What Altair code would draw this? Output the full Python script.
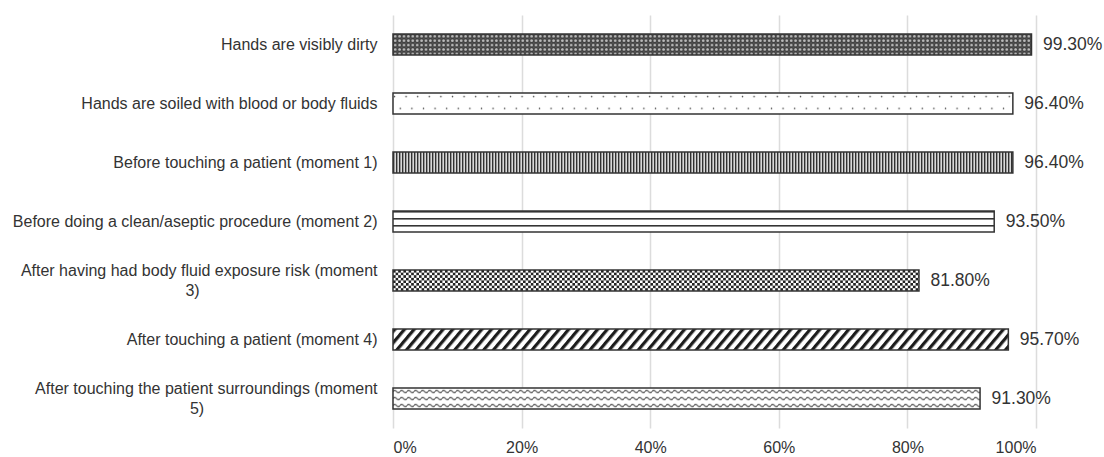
import base64
import altair as alt
import pandas as pd

# Share of respondents naming each moment for hand hygiene
categories = [
    "Hands are visibly dirty",
    "Hands are soiled with blood or body fluids",
    "Before touching a patient (moment 1)",
    "Before doing a clean/aseptic procedure (moment 2)",
    "After having had body fluid exposure risk (moment 3)",
    "After touching a patient (moment 4)",
    "After touching the patient surroundings (moment 5)",
]
values = [0.993, 0.964, 0.964, 0.935, 0.818, 0.957, 0.913]

# Long labels are broken over two lines.  The short second line is padded
# with no-break spaces (closed by a zero-width space so they are not trimmed)
# so that it sits under the middle of the first line.
wrapped = {
    "After having had body fluid exposure risk (moment 3)":
        ["After having had body fluid exposure risk (moment",
         "3)" + "\u00a0" * 40 + "\u200b"],
    "After touching the patient surroundings (moment 5)":
        ["After touching the patient surroundings (moment",
         "5)" + "\u00a0" * 39 + "\u200b"],
}

tick_values = [0, 0.2, 0.4, 0.6, 0.8, 1.0]

FONT = "Liberation Sans"
INK = "#333333"


def pattern(tile_w, tile_h, body, bg="#ffffff", transform=None):
    """Build an SVG data URI that tiles a fill pattern at screen-pixel scale."""
    tf = f' patternTransform="{transform}"' if transform else ""
    svg = (
        '<svg xmlns="http://www.w3.org/2000/svg" width="100%" height="100%">'
        f'<defs><pattern id="p" patternUnits="userSpaceOnUse" width="{tile_w}" height="{tile_h}"{tf}>'
        f'<rect width="{tile_w}" height="{tile_h}" fill="{bg}"/>{body}</pattern></defs>'
        '<rect width="100%" height="100%" fill="url(#p)"/></svg>'
    )
    return "data:image/svg+xml;base64," + base64.b64encode(svg.encode()).decode()


fills = [
    # trellis: light specks on a dark ground
    pattern(4.4, 4.4,
            '<circle cx="2.2" cy="2.2" r="1.35" fill="#bdbdbd"/>'
            '<circle cx="0" cy="0" r="0.5" fill="#8a8a8a"/>'
            '<circle cx="4.4" cy="0" r="0.5" fill="#8a8a8a"/>'
            '<circle cx="0" cy="4.4" r="0.5" fill="#8a8a8a"/>'
            '<circle cx="4.4" cy="4.4" r="0.5" fill="#8a8a8a"/>',
            bg="#404040"),
    # sparse staggered dots
    pattern(11.6, 24,
            '<circle cx="1.5" cy="3.5" r="0.75" fill="#444"/>'
            '<circle cx="7.3" cy="15.5" r="0.75" fill="#444"/>'),
    # dense vertical lines
    pattern(3, 3, '<rect x="0" y="0" width="1.3" height="3" fill="#2a2a2a"/>', bg="#d9d9d9"),
    # horizontal lines
    pattern(7, 7, '<rect x="0" y="0" width="7" height="1.5" fill="#333"/>'),
    # small checkerboard
    pattern(5.2, 5.2,
            '<rect x="0" y="0" width="2.6" height="2.6" fill="#222"/>'
            '<rect x="2.6" y="2.6" width="2.6" height="2.6" fill="#222"/>'),
    # wide upward diagonal
    pattern(7.4, 7.4, '<rect x="0" y="0" width="3.2" height="7.4" fill="#1c1c1c"/>',
            transform="rotate(40)"),
    # wavy lines
    pattern(7, 7, '<path d="M0,3.5 q1.75,-2.4 3.5,0 t3.5,0" fill="none" stroke="#333" stroke-width="1"/>'),
]

df = pd.DataFrame({"category": categories, "pct": values, "fill": fills})

label_expr = " : ".join(
    [f"datum.label == {k!r} ? {v!r}" for k, v in wrapped.items()] + ["datum.label"]
)
wrapped_test = " || ".join(f"datum.value == {k!r}" for k in wrapped)

y_enc = alt.Y(
    "category:N",
    sort=categories,
    scale=alt.Scale(paddingInner=0.645, paddingOuter=0.3225),
    axis=alt.Axis(
        title=None,
        domain=False,
        ticks=False,
        grid=False,
        labelFont=FONT,
        labelFontSize=16,
        labelColor=INK,
        labelPadding=16,
        labelLimit=500,
        labelLineHeight=20.5,
        labelExpr=label_expr,
        labelOffset={"condition": {"test": wrapped_test, "value": -10}, "value": 0},
    ),
)

x_scale = alt.Scale(domain=[0, 1], nice=False)
x_axis = alt.Axis(
    title=None,
    values=tick_values,
    format=".0%",
    domain=False,
    ticks=False,
    grid=True,
    gridColor="#dcdcdc",
    gridWidth=1.5,
    labelFont=FONT,
    labelFontSize=16,
    labelColor=INK,
    labelPadding=11,
)

base = alt.Chart(df)

textures = base.mark_image(aspect=False).encode(
    y=y_enc,
    x=alt.X("start:Q", scale=x_scale, axis=x_axis),
    x2="pct:Q",
    url="fill:N",
).transform_calculate(start="0")

outline = base.mark_bar(fillOpacity=0, stroke=INK, strokeWidth=1.5).encode(
    y=y_enc,
    x=alt.X("pct:Q", scale=x_scale, axis=x_axis),
)

labels = base.mark_text(
    align="left", baseline="middle", dx=11.5, font=FONT, fontSize=17.5, color=INK
).encode(
    y=y_enc,
    x=alt.X("pct:Q", scale=x_scale, axis=x_axis),
    text=alt.Text("pct:Q", format=".2%"),
)

chart = (
    alt.layer(textures, outline, labels)
    .properties(
        width=643,
        height=413,
        autosize=alt.AutoSizeParams(type="none"),
        padding={"left": 393, "top": 15, "right": 68, "bottom": 29},
        background="white",
    )
    .configure_view(stroke=None)
)

chart.save("out.html", embed_options={"renderer": "svg", "actions": False})
